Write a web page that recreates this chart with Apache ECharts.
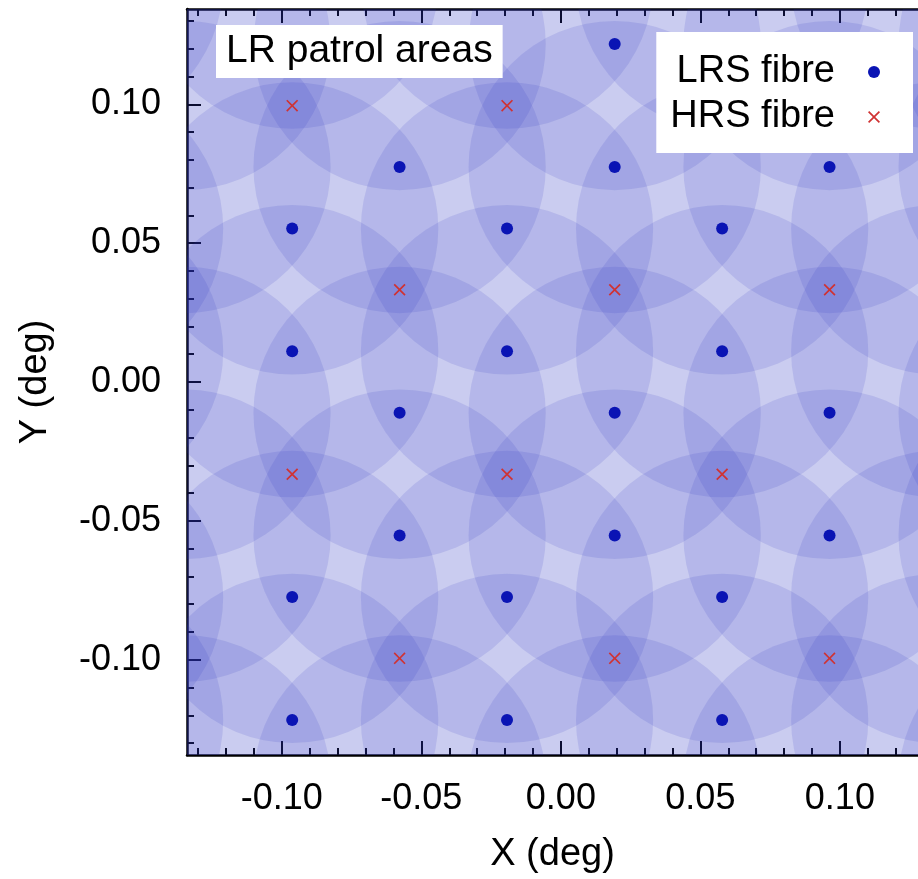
<!DOCTYPE html>
<html>
<head>
<meta charset="utf-8">
<script src="https://cdn.jsdelivr.net/npm/echarts@6/dist/echarts.min.js"></script>
<style>
html,body{margin:0;padding:0;background:#fff;}
#chart{width:918px;height:879px;}
</style>
</head>
<body>
<div id="chart"></div>
<script>
// ---- data (deg) ----
// LRS fibre positions (including neighbours just outside the frame whose patrol areas reach in)
const lrsX = [
  -0.1734,-0.1734,-0.1734,-0.1734,-0.1734,
  -0.1349,-0.1349,-0.1349,-0.1349,-0.1349,
  -0.0963,-0.0963,-0.0963,-0.0963,-0.0963,
  -0.0578,-0.0578,-0.0578,-0.0578,-0.0578,
  -0.0193,-0.0193,-0.0193,-0.0193,-0.0193,
   0.0193, 0.0193, 0.0193, 0.0193, 0.0193,
   0.0578, 0.0578, 0.0578, 0.0578, 0.0578,
   0.0963, 0.0963, 0.0963, 0.0963, 0.0963,
   0.1349, 0.1349, 0.1349, 0.1349, 0.1349,
   0.1734, 0.1734, 0.1734, 0.1734, 0.1734
];
const lrsY = [
   0.1438, 0.0553, 0.0111,-0.0774,-0.1217,
   0.1217, 0.0774,-0.0111,-0.0553,-0.1438,
   0.1438, 0.0553, 0.0111,-0.0774,-0.1217,
   0.1217, 0.0774,-0.0111,-0.0553,-0.1438,
   0.1438, 0.0553, 0.0111,-0.0774,-0.1217,
   0.1217, 0.0774,-0.0111,-0.0553,-0.1438,
   0.1438, 0.0553, 0.0111,-0.0774,-0.1217,
   0.1217, 0.0774,-0.0111,-0.0553,-0.1438,
   0.1438, 0.0553, 0.0111,-0.0774,-0.1217,
   0.1217, 0.0774,-0.0111,-0.0553,-0.1438
];
// HRS fibre positions
const hrsX = [
  -0.1349,-0.1349,
  -0.0963,-0.0963,
  -0.0578,-0.0578,
  -0.0193,-0.0193,
   0.0193, 0.0193,
   0.0578, 0.0578,
   0.0963, 0.0963,
   0.1349, 0.1349
];
const hrsY = [
   0.0332,-0.0995,
   0.0995,-0.0332,
   0.0332,-0.0995,
   0.0995,-0.0332,
   0.0332,-0.0995,
   0.0995,-0.0332,
   0.0332,-0.0995,
   0.0995,-0.0332
];
const patrolRadius = 0.0525;           // deg
const xMajorTicks = [-0.10,-0.05,0.00,0.05,0.10];
const yMajorTicks = [-0.10,-0.05,0.00,0.05,0.10];
const xMinorTicks = [-0.13,-0.12,-0.11,-0.09,-0.08,-0.07,-0.06,-0.04,-0.03,-0.02,-0.01,
                      0.01,0.02,0.03,0.04,0.06,0.07,0.08,0.09,0.11,0.12];
const yMinorTicks = [-0.13,-0.12,-0.11,-0.09,-0.08,-0.07,-0.06,-0.04,-0.03,-0.02,-0.01,
                      0.01,0.02,0.03,0.04,0.06,0.07,0.08,0.09,0.11,0.12,0.13];
const xRange = [-0.134, 0.128];
const yRange = [-0.1343, 0.1343];
const seriesNames = ['LRS fibre','HRS fibre'];
const xName = 'X (deg)', yName = 'Y (deg)', panelLabel = 'LR patrol areas';

// ---- styles ----
const FONT = "'Liberation Sans', Arial, Helvetica, sans-serif";
const INK = '#000';
const fmt = v => v.toFixed(2);

function xAxisDef(position, major, showLine, withLabels) {
  const ax = {
    type: 'value', position: position, min: xRange[0], max: xRange[1],
    splitLine: {show: false},
    axisLine: {show: showLine, onZero: false, lineStyle: {color: INK, width: 2.5}},
    axisTick: {show: true, inside: true, length: major ? 14 : 7,
               lineStyle: {color: INK, width: 2},
               customValues: major ? xMajorTicks : xMinorTicks},
    axisLabel: {show: withLabels}
  };
  if (withLabels) {
    ax.axisLabel = {show: true, customValues: xMajorTicks, formatter: fmt,
      fontSize: 36, color: INK, fontFamily: FONT, margin: 26};
    ax.name = xName; ax.nameLocation = 'middle'; ax.nameGap = 81;
    ax.nameTextStyle = {fontSize: 38, color: INK, fontFamily: FONT};
  }
  return ax;
}
function yAxisDef(position, major, showLine, withLabels) {
  const ax = {
    type: 'value', position: position, min: yRange[0], max: yRange[1],
    splitLine: {show: false},
    axisLine: {show: showLine, onZero: false, lineStyle: {color: INK, width: 2.5}},
    axisTick: {show: true, inside: true, length: major ? 14 : 7,
               lineStyle: {color: INK, width: 2},
               customValues: major ? yMajorTicks : yMinorTicks},
    axisLabel: {show: withLabels}
  };
  if (withLabels) {
    ax.axisLabel = {show: true, customValues: yMajorTicks, formatter: fmt,
      fontSize: 36, color: INK, fontFamily: FONT, margin: 26};
    ax.name = yName; ax.nameLocation = 'middle'; ax.nameGap = 132;
    ax.nameTextStyle = {fontSize: 38, color: INK, fontFamily: FONT};
  }
  return ax;
}

const lrsData = lrsX.map((x, i) => [x, lrsY[i]]);
const hrsData = hrsX.map((x, i) => [x, hrsY[i]]);
const crossPath = 'path://M1,0 L5,4 L9,0 L10,1 L6,5 L10,9 L9,10 L5,6 L1,10 L0,9 L4,5 L0,1 Z';

const chart = echarts.init(document.getElementById('chart'), null, {renderer: 'canvas'});
chart.setOption({
  animation: false,
  backgroundColor: '#fff',
  textStyle: {fontFamily: FONT},
  grid: {left: 187, top: 9, width: 731, height: 747, containLabel: false},
  title: {
    text: panelLabel, left: 216, top: 25,
    backgroundColor: '#fff', padding: [7, 10, 7, 10],
    textStyle: {fontSize: 39, fontWeight: 'normal', color: INK, fontFamily: FONT}
  },
  legend: {
    data: seriesNames, orient: 'vertical', align: 'right',
    right: 5, top: 32, backgroundColor: '#fff',
    padding: [21, 33, 17, 14], itemGap: 7, itemWidth: 12, itemHeight: 12,
    selectedMode: false,
    textStyle: {fontSize: 38, color: INK, fontFamily: FONT, lineHeight: 38, padding: [0, 28, 0, 0]}
  },
  xAxis: [
    xAxisDef('bottom', true, true, true),
    xAxisDef('bottom', false, false, false),
    xAxisDef('top', true, true, false),
    xAxisDef('top', false, false, false)
  ],
  yAxis: [
    yAxisDef('left', true, true, true),
    yAxisDef('left', false, false, false)
  ],
  series: [
    {
      type: 'custom', name: 'patrol', xAxisIndex: 0, yAxisIndex: 0,
      clip: true, silent: true, z: 1,
      data: lrsData,
      renderItem: function (params, api) {
        const c = api.coord([api.value(0), api.value(1)]);
        const s = api.size([patrolRadius, patrolRadius]);
        return {
          type: 'circle',
          shape: {cx: c[0], cy: c[1], r: (s[0] + s[1]) / 2},
          style: {fill: 'rgba(45,55,195,0.135)', stroke: null}
        };
      }
    },
    {
      type: 'scatter', name: seriesNames[0], xAxisIndex: 0, yAxisIndex: 0,
      clip: true, z: 3, symbol: 'circle', symbolSize: 12,
      itemStyle: {color: '#0a14b4', opacity: 1},
      data: lrsData
    },
    {
      type: 'scatter', name: seriesNames[1], xAxisIndex: 0, yAxisIndex: 0,
      clip: true, z: 3, symbol: crossPath, symbolSize: 12,
      itemStyle: {color: '#d03232', opacity: 1},
      data: hrsData
    }
  ]
});
</script>
</body>
</html>
